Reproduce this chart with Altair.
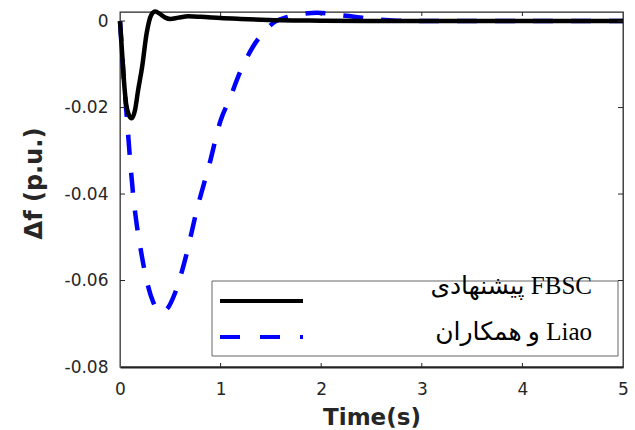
import altair as alt
import pandas as pd

# --- data ---
t_fbsc = [0, 0.02, 0.04, 0.06, 0.09, 0.116, 0.15, 0.18, 0.22, 0.265, 0.31, 0.35, 0.40, 0.45,
          0.50, 0.58, 0.68, 0.80, 1.0, 1.2, 1.6, 2.0, 2.5, 3.0, 4.0, 5.0]
f_fbsc = [0, -0.007, -0.014, -0.019, -0.0218, -0.0225, -0.0205, -0.016, -0.0106, -0.0028, 0.0014,
          0.0022, 0.0016, 0.0008, 0.0005, 0.0008, 0.0011, 0.0010, 0.0007, 0.0005, 0.0002, 0.0001,
          0, 0, 0, 0]

t_liao = [0, 0.02, 0.04, 0.06, 0.08, 0.10, 0.13, 0.16, 0.20, 0.265, 0.33, 0.41, 0.47, 0.55,
          0.66, 0.76, 0.89, 1.0, 1.09, 1.19, 1.32, 1.45, 1.55, 1.66, 1.8, 1.96, 2.15, 2.36, 2.55,
          2.75, 3.0, 4.0, 5.0]
f_liao = [0, -0.007, -0.014, -0.020, -0.026, -0.032, -0.040, -0.046, -0.052, -0.060, -0.065,
          -0.0673, -0.0665, -0.0627, -0.054, -0.044, -0.033, -0.023, -0.018, -0.012, -0.006,
          -0.002, 0, 0.0009, 0.0016, 0.0019, 0.0015, 0.0009, 0.0004, 0.0001, 0, 0, 0]

x_ticks = [0, 1, 2, 3, 4, 5]
y_ticks = [0, -0.02, -0.04, -0.06, -0.08]
legend_labels = ["پیشنهادی FBSC", "و همکاران Liao"]

W, H = 503, 355
AXIS_FONT = "DejaVu Sans"
SERIF = "Liberation Serif, Times New Roman, DejaVu Serif, DejaVu Sans"

xs = alt.Scale(domain=[0, 5], nice=False, zero=False)
ys = alt.Scale(domain=[-0.08, 0.0021], nice=False, zero=False)

df_f = pd.DataFrame({"t": t_fbsc, "f": f_fbsc})
df_l = pd.DataFrame({"t": t_liao, "f": f_liao})

x_axis = alt.Axis(
    values=x_ticks, format="d", ticks=False, tickSize=0, grid=False,
    labelFont=AXIS_FONT, labelFontSize=17, labelColor="#262626", labelPadding=27,
    labelBaseline="alphabetic", labelFlush=False,
    domainColor="#222222", domainWidth=2,
    title="Time(s)", titleFont=AXIS_FONT, titleFontSize=23, titleFontWeight="bold",
    titleColor="#262626", titleY=57, titleBaseline="alphabetic",
)
y_axis = alt.Axis(
    values=y_ticks, ticks=False, tickSize=0, grid=False,
    labelExpr="datum.value == 0 ? '0' : replace(format(datum.value, '.2f'), '\u2212', '-')",
    labelFont=AXIS_FONT, labelFontSize=17, labelColor="#262626", labelPadding=12,
    labelFlush=False,
    domainColor="#555555", domainWidth=1,
    title="Δf (p.u.)", titleFont=AXIS_FONT, titleFontSize=24, titleFontWeight="bold",
    titleColor="#262626", titleX=-79, titleY=171, titleBaseline="alphabetic",
    titleAngle=270, titleAlign="center",
)

liao = alt.Chart(df_l).mark_line(
    color="#0000ff", strokeWidth=4.5, strokeDash=[20, 18], clip=False, interpolate="monotone"
).encode(
    x=alt.X("t:Q", scale=xs, axis=x_axis),
    y=alt.Y("f:Q", scale=ys, axis=y_axis),
)
fbsc = alt.Chart(df_f).mark_line(
    color="black", strokeWidth=4.5, clip=False, interpolate="monotone"
).encode(
    x=alt.X("t:Q", scale=xs),
    y=alt.Y("f:Q", scale=ys),
)

# inward ticks (MATLAB style box axes)
xt = pd.DataFrame({"v": x_ticks[1:-1]})
yt = pd.DataFrame({"v": y_ticks[:-1]})
tick_col = "#262626"
xt_bottom = alt.Chart(xt).mark_rule(color=tick_col, strokeWidth=1).encode(
    x=alt.X("v:Q", scale=xs), y=alt.value(H), y2=alt.value(H - 4))
xt_top = alt.Chart(xt).mark_rule(color=tick_col, strokeWidth=1).encode(
    x=alt.X("v:Q", scale=xs), y=alt.value(0), y2=alt.value(4))
yt_left = alt.Chart(yt).mark_rule(color=tick_col, strokeWidth=1).encode(
    y=alt.Y("v:Q", scale=ys), x=alt.value(0), x2=alt.value(5))
yt_right = alt.Chart(yt).mark_rule(color=tick_col, strokeWidth=1).encode(
    y=alt.Y("v:Q", scale=ys), x=alt.value(W), x2=alt.value(W - 5))

one = pd.DataFrame({"a": [0]})
leg_box = alt.Chart(one).mark_rect(fill="white", stroke="#666666", strokeWidth=1).encode(
    x=alt.value(92), x2=alt.value(498), y=alt.value(269), y2=alt.value(344))
leg_l1 = alt.Chart(one).mark_rule(color="black", strokeWidth=4).encode(
    x=alt.value(100), x2=alt.value(183), y=alt.value(289))
leg_l2 = alt.Chart(one).mark_rule(color="#0000ff", strokeWidth=4, strokeDash=[20, 20]).encode(
    x=alt.value(100), x2=alt.value(183), y=alt.value(325))
leg_t1 = alt.Chart(one).mark_text(
    text=legend_labels[0], font=SERIF, fontSize=25,
    align="right", baseline="alphabetic", color="black").encode(
    x=alt.value(472), y=alt.value(282))
leg_t2 = alt.Chart(one).mark_text(
    text=legend_labels[1], font=SERIF, fontSize=25,
    align="right", baseline="alphabetic", color="black").encode(
    x=alt.value(472), y=alt.value(328))

chart = alt.layer(
    liao, fbsc, xt_bottom, xt_top, yt_left, yt_right,
    leg_box, leg_l1, leg_l2, leg_t1, leg_t2,
).properties(
    width=W, height=H,
    autosize=alt.AutoSizeParams(type="none"),
    padding={"left": 120, "top": 12, "right": 12, "bottom": 63},
    background="white",
).configure_view(
    stroke="#262626", strokeWidth=1.3,
)

chart.save("out.html", embed_options={"renderer": "svg", "actions": False})
